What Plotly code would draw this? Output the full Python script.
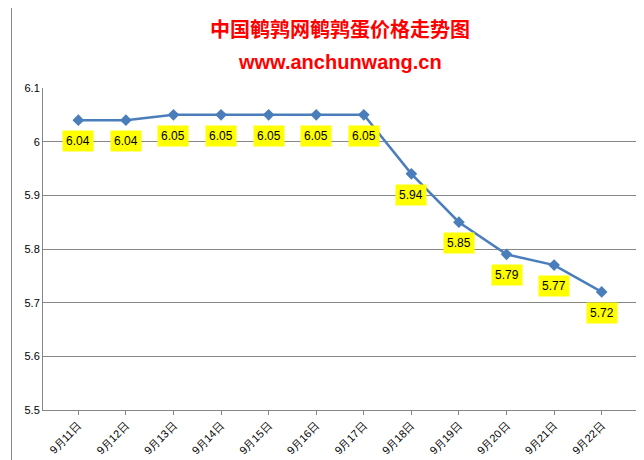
import plotly.graph_objects as go

dates = ["9月11日", "9月12日", "9月13日", "9月14日", "9月15日", "9月16日",
         "9月17日", "9月18日", "9月19日", "9月20日", "9月21日", "9月22日"]
prices = [6.04, 6.04, 6.05, 6.05, 6.05, 6.05, 6.05, 5.94, 5.85, 5.79, 5.77, 5.72]

fig = go.Figure()
fig.add_trace(go.Scatter(x=dates, y=prices, mode="lines+markers",
                         line=dict(color="#4a7ebb", width=2.5),
                         marker=dict(symbol="diamond", size=9, color="#4a7ebb")))

# yellow value labels under each point
for d, p in zip(dates, prices):
    fig.add_annotation(x=d, y=p, text="%.2f" % p, showarrow=False,
                       yshift=-21, bgcolor="#ffff00",
                       font=dict(family="Liberation Sans", size=12, color="black"),
                       borderpad=3)

fig.add_annotation(text="<b>中国鹌鹑网鹌鹑蛋价格走势图</b>",
                   xref="paper", yref="paper", x=0.5, y=1.235, showarrow=False,
                   font=dict(family="Noto Sans CJK SC", size=20, color="#ff0000"))
fig.add_annotation(text="<b>www.anchunwang.cn</b>",
                   xref="paper", yref="paper", x=0.5, y=1.12, showarrow=False,
                   font=dict(family="Liberation Sans", size=20, color="#ff0000"))

fig.update_layout(
    width=644, height=460, showlegend=False,
    margin=dict(l=35, r=15, t=80, b=58),
    plot_bgcolor="white", paper_bgcolor="white",
    font=dict(family="Liberation Sans", size=11, color="black"),
    shapes=[dict(type="rect", xref="paper", yref="paper", x0=-0.053, x1=1.022,
                 y0=-0.205, y1=1.27, line=dict(color="#888888", width=1))],
)
fig.update_xaxes(type="category", tickangle=-45, showline=True, linecolor="#868686",
                 ticks="outside", tickcolor="#868686", ticklen=4,
                 tickfont=dict(size=11))
fig.update_yaxes(range=[5.5, 6.1], dtick=0.1, showgrid=True, gridcolor="#868686",
                 showline=True, linecolor="#868686", zeroline=False)

fig.write_html("out.html")
